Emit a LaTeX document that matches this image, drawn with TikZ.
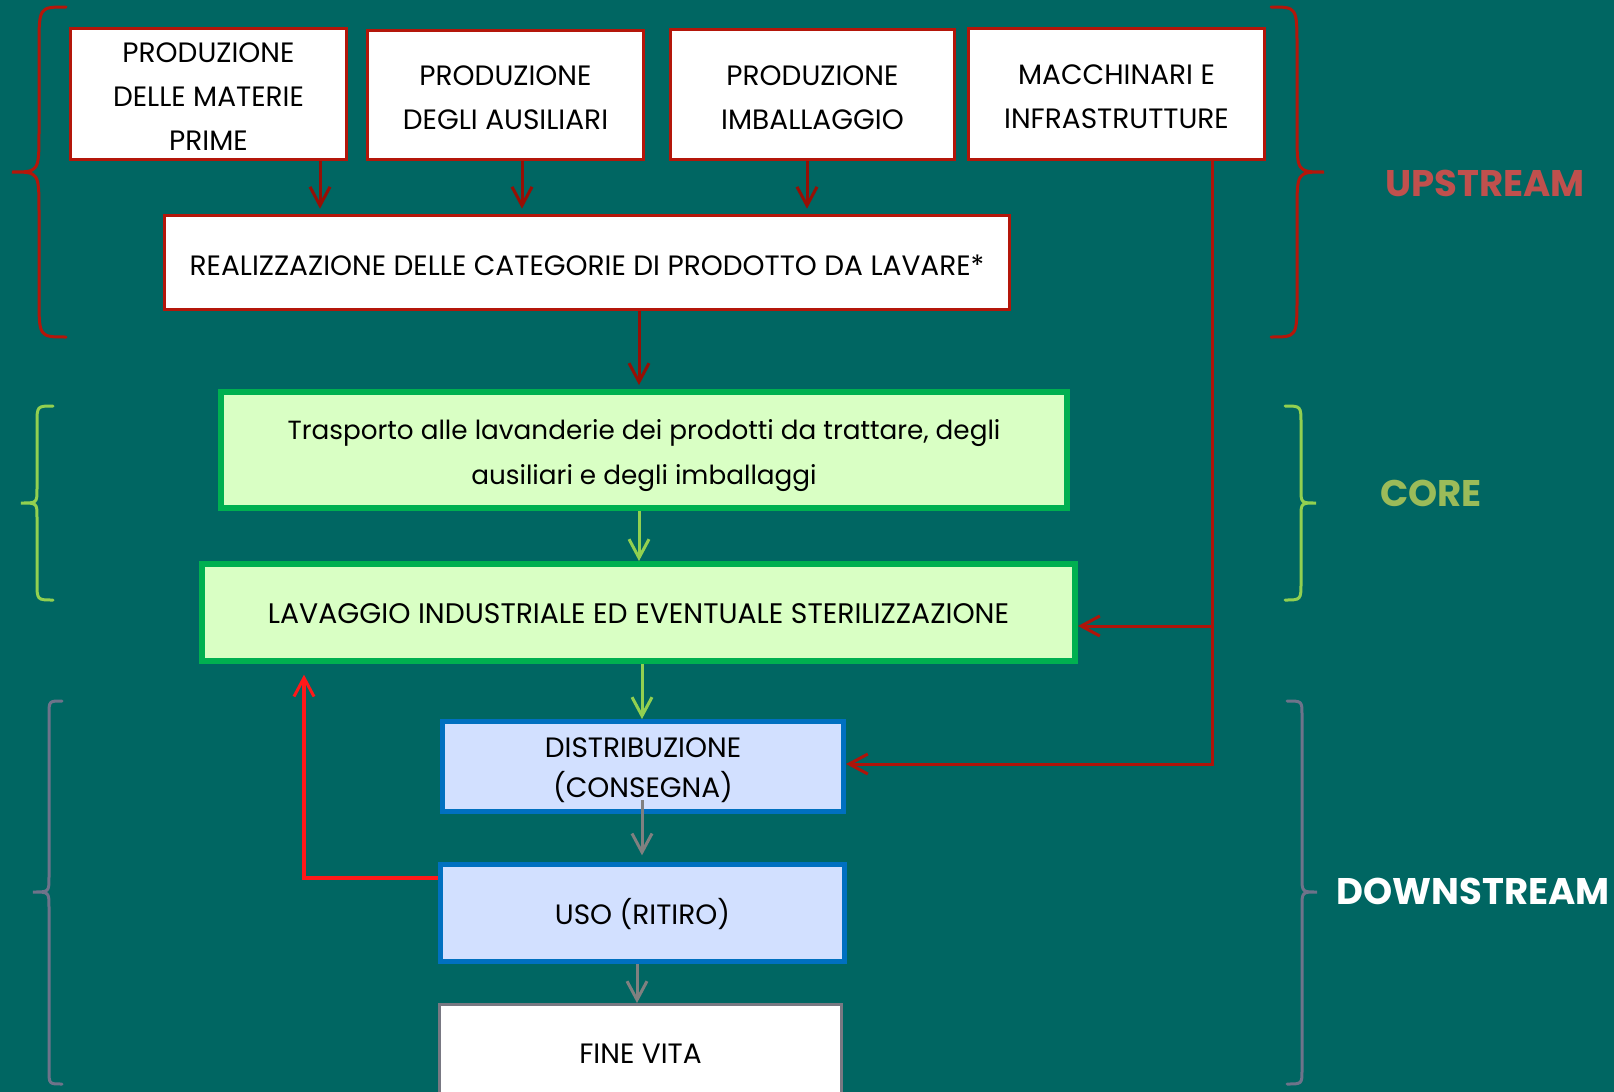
\documentclass[tikz,border=0pt]{standalone}
\usepackage{fontspec}
\setmainfont{Poppins}
\usetikzlibrary{arrows.meta}
\definecolor{bg}{RGB}{0,102,98}
\definecolor{upred}{RGB}{180,22,10}
\definecolor{arrred}{RGB}{150,15,5}
\definecolor{macred}{RGB}{175,20,10}
\definecolor{coreborder}{RGB}{0,176,80}
\definecolor{corefill}{RGB}{217,255,196}
\definecolor{lgreen}{RGB}{146,208,80}
\definecolor{corelab}{RGB}{155,187,89}
\definecolor{blueborder}{RGB}{0,112,192}
\definecolor{bluefill}{RGB}{210,224,255}
\definecolor{greyarr}{RGB}{128,128,128}
\definecolor{downbrace}{RGB}{110,115,138}
\definecolor{uplab}{RGB}{192,80,77}
\definecolor{fbred}{RGB}{255,25,25}
\definecolor{fineborder}{RGB}{120,120,130}
\tikzset{
  boxtext/.style={font=\fontsize{21pt}{33pt}\selectfont, align=center, text=black, inner sep=0pt, text height=19.2pt, text depth=0pt},
  upbox/.style={boxtext, draw=upred, fill=white, line width=2.25pt},
  corebox/.style={boxtext, draw=coreborder, fill=corefill, line width=4.5pt},
  downbox/.style={boxtext, draw=blueborder, fill=bluefill, line width=3.75pt},
  finebox/.style={boxtext, draw=fineborder, fill=white, line width=2.25pt},
  lab/.style={font=\fontsize{27.8pt}{33pt}\selectfont\bfseries, inner sep=0pt},
  conn/.style={line width=2.25pt, -{Straight Barb[length=14pt,width=15pt,line width=2.25pt]}},
  redarr/.style={conn, draw=arrred},
  greenarr/.style={conn, draw=lgreen},
  greyarr/.style={conn, draw=greyarr},
  macline/.style={conn, draw=macred},
  fbline/.style={conn, draw=fbred, line width=3pt},
  bracestyle/.style={line width=2.25pt, line cap=round},
}
\begin{document}
\begin{tikzpicture}[x=0.75pt,y=-0.75pt]
\fill[bg] (0,0) rectangle (1614,1092);
\useasboundingbox (0,0) rectangle (1614,1092);

% upstream boxes
\node[upbox, minimum width=207pt, minimum height=98.25pt, text height=85.2pt] (b1) at (208.5,94) {PRODUZIONE\\DELLE MATERIE\\PRIME};
\node[upbox, minimum width=207pt, minimum height=96.75pt, text height=52.2pt] (b2) at (505.5,95) {PRODUZIONE\\DEGLI AUSILIARI};
\node[upbox, minimum width=213pt, minimum height=97.5pt, text height=52.2pt] (b3) at (812.5,94.5) {PRODUZIONE\\IMBALLAGGIO};
\node[upbox, minimum width=222pt, minimum height=98.25pt, text height=52.2pt] (b4) at (1116.5,94) {MACCHINARI E\\INFRASTRUTTURE};
\node[upbox, minimum width=633.75pt, minimum height=70.5pt] (real) at (587,262.5) {REALIZZAZIONE DELLE CATEGORIE DI PRODOTTO DA LAVARE*};

% core boxes
\node[corebox, minimum width=634.5pt, minimum height=87pt, font=\fontsize{19.7pt}{33.75pt}\selectfont, text height=51.25pt] (tras) at (644,450) {Trasporto alle lavanderie dei prodotti da trattare, degli\\ausiliari e degli imballaggi};
\node[corebox, minimum width=654.75pt, minimum height=72.75pt, text height=16.2pt, font=\fontsize{21.2pt}{33pt}\selectfont] (lav) at (638.5,612.5) {LAVAGGIO INDUSTRIALE ED EVENTUALE STERILIZZAZIONE};

% downstream boxes
\node[downbox, minimum width=300.75pt, minimum height=67.5pt, font=\fontsize{21pt}{30pt}\selectfont, text height=47pt] (dist) at (643,766.5) {DISTRIBUZIONE\\(CONSEGNA)};
\node[downbox, minimum width=303pt, minimum height=72.75pt, text height=17.7pt] (uso) at (642.5,913) {USO (RITIRO)};
\node[finebox, minimum width=301.5pt, minimum height=71.25pt, text height=17.7pt] (fine) at (640.5,1052) {FINE VITA};

% labels
\node[lab, text=uplab] (lup) at (1485,183) {UPSTREAM};
\node[lab, text=corelab] (lcore) at (1431,493) {CORE};
\node[lab, text=white] (ldown) at (1473,891) {DOWNSTREAM};

% connectors upstream
\draw[redarr, shorten >=4pt] (b1.south -| 320,0) -- (real.north -| 320,0);
\draw[redarr, shorten >=4pt] (b2.south -| 522,0) -- (real.north -| 522,0);
\draw[redarr, shorten >=4pt] (b3.south -| 807,0) -- (real.north -| 807,0);
\draw[redarr, shorten >=3pt] (real.south -| 639,0) -- (tras.north -| 639,0);

% core / downstream connectors
\draw[greenarr] (tras.south -| 639,0) -- (lav.north -| 639,0);
\draw[greenarr] (lav.south -| 642,0) -- (dist.north -| 642,0);
\draw[greyarr, shorten <=-10.5pt, shorten >=5pt] (dist.south -| 642,0) -- (uso.north -| 642,0);
\draw[greyarr] (uso.south -| 637,0) -- (fine.north -| 637,0);

% macchinari line
\coordinate (mx) at (1212,0);
\draw[macline] (b4.south -| mx) -- (mx |- 0,764) -- (dist.east |- 0,764);
\draw[macline] (mx |- 0,626) -- (lav.east |- 0,626);

% feedback
\draw[fbline, shorten >=8pt] (uso.west |- 0,878) -| (lav.south -| 304,0);

% braces
\draw[bracestyle, draw=upred] (66,7) .. controls (39,7) .. (39,47) -- (39,132) .. controls (39,172) .. (12,172) .. controls (39,172) .. (39,212) -- (39,297) .. controls (39,337) .. (66,337);
\draw[bracestyle, draw=upred] (1271,7) .. controls (1297,7) .. (1297,47) -- (1297,132) .. controls (1297,172) .. (1324,172) .. controls (1297,172) .. (1297,212) -- (1297,297) .. controls (1297,337) .. (1271,337);
\draw[bracestyle, draw=lgreen] (53,406) .. controls (37,406) .. (37,424) -- (37,489) .. controls (37,503) .. (21,503) .. controls (37,503) .. (37,517) -- (37,582) .. controls (37,600) .. (53,600);
\draw[bracestyle, draw=lgreen] (1285,406) .. controls (1301,406) .. (1301,424) -- (1301,489) .. controls (1301,503) .. (1316,503) .. controls (1301,503) .. (1301,517) -- (1301,582) .. controls (1301,600) .. (1285,600);
\draw[bracestyle, draw=downbrace] (62,701) .. controls (49,701) .. (49,715) -- (49,877) .. controls (49,892) .. (33,892) .. controls (49,892) .. (49,907) -- (49,1070) .. controls (49,1084) .. (62,1084);
\draw[bracestyle, draw=downbrace] (1287,701) .. controls (1302,701) .. (1302,715) -- (1302,877) .. controls (1302,892) .. (1317,892) .. controls (1302,892) .. (1302,907) -- (1302,1070) .. controls (1302,1084) .. (1287,1084);
\end{tikzpicture}
\end{document}
